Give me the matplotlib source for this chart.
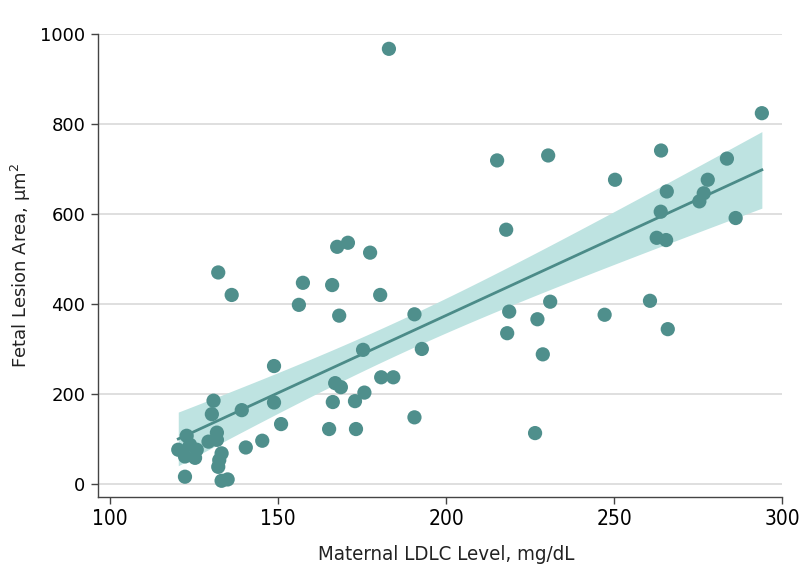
import numpy as np
import matplotlib
matplotlib.use("Agg")
import matplotlib.pyplot as plt
import matplotlib.transforms as mtransforms
from matplotlib import font_manager

ldlc = [183.0, 294.0, 215.2, 230.4, 264.0, 250.3, 283.6, 277.9, 276.7, 275.4,
        265.7, 263.9, 286.2, 262.7, 265.5, 260.7, 247.2, 266.0, 217.9, 218.8,
        218.2, 231.0, 227.2, 228.8, 226.5, 190.6, 192.8, 190.6,
        170.8, 167.6, 177.4, 157.4, 166.1, 156.2, 180.4, 136.2, 132.2, 168.2,
        175.3, 148.8, 167.0, 168.7, 180.7, 184.3, 175.7, 166.3, 172.9, 148.8,
        139.2, 150.9, 165.2, 173.2,
        130.8, 130.3, 145.3, 140.4, 122.8, 131.8, 129.3, 131.8, 120.3, 123.8,
        125.8, 122.3, 125.3, 133.2, 132.5, 132.2, 122.3, 133.2, 135.0]
lesion = [967, 824, 719, 730, 741, 676, 723, 676, 646, 628,
          650, 605, 591, 547, 542, 407, 376, 344, 565, 383,
          335, 405, 366, 288, 113, 377, 300, 148,
          536, 527, 514, 447, 442, 398, 420, 420, 470, 374,
          298, 262, 224, 215, 237, 237, 203, 182, 184, 181,
          164, 133, 122, 122,
          185, 155, 96, 81, 107, 114, 94, 98, 76, 87,
          76, 61, 58, 68, 53, 38, 16, 7, 10]

# fitted regression line (value at x=120 and x=294)
fit_x = [120, 294]
fit_y = [99, 698]

x_ticks = [100, 150, 200, 250, 300]
y_ticks = [0, 200, 400, 600, 800, 1000]
x_label = "Maternal LDLC Level, mg/dL"
y_label = "Fetal Lesion Area, μm$^2$"

has_cond = any(f.name == "DejaVu Sans" and str(f.stretch) in ("condensed", "semi-condensed")
               for f in font_manager.fontManager.ttflist)
if has_cond:
    xfont = dict(family="DejaVu Sans", stretch="condensed")
    xtick_size, xlab_size = 15, 14.7
else:
    xfont = dict(family="DejaVu Sans")
    xtick_size, xlab_size = 13.5, 13.1

point_color = "#4f8f8c"
line_color = "#4b8b88"
band_color = "#bee3e1"

x = np.array(ldlc, dtype=float)
y = np.array(lesion, dtype=float)
n = len(x)
b1 = (fit_y[1] - fit_y[0]) / (fit_x[1] - fit_x[0])
b0 = fit_y[0] - b1 * fit_x[0]
xs = np.linspace(x.min(), x.max(), 100)
ys = b0 + b1 * xs
resid = y - (b0 + b1 * x)
s = np.sqrt(np.sum(resid ** 2) / (n - 2))
sxx = np.sum((x - x.mean()) ** 2)
se = s * np.sqrt(1.0 / n + (xs - x.mean()) ** 2 / sxx)
tval = 1.995
lo, hi = ys - tval * se, ys + tval * se

fig = plt.figure(figsize=(8.01, 5.88), dpi=100)
ax = fig.add_axes([0.1223, 0.1548, 0.854, 0.7874])

for yt in y_ticks:
    ax.axhline(yt, color="#dcdcdc", lw=1.3, zorder=0)
ax.fill_between(xs, lo, hi, color=band_color, lw=0, zorder=1)
ax.plot(xs, ys, color=line_color, lw=2.0, zorder=2)
ax.scatter(x, y, s=105, color=point_color, edgecolors="none", zorder=3)

ax.set_xlim(96.4, 300)
ax.set_ylim(-29, 1000)
ax.set_xticks(x_ticks)
ax.set_yticks(y_ticks)
for sp in ["top", "right"]:
    ax.spines[sp].set_visible(False)
for sp in ["left", "bottom"]:
    ax.spines[sp].set_color("#444444")
    ax.spines[sp].set_linewidth(1.0)
ax.tick_params(axis="both", direction="out", length=5, width=1, color="#444444")
ax.tick_params(axis="y", labelsize=13, pad=4)
ax.tick_params(axis="x", pad=4)
for lab in ax.get_xticklabels():
    lab.set_fontfamily(xfont["family"])
    if "stretch" in xfont:
        lab.set_fontstretch(xfont["stretch"])
    lab.set_fontsize(xtick_size)
ax.set_xlabel(x_label, fontsize=xlab_size, color="#222222", **xfont)
ax.xaxis.set_label_coords(0.5 * (x_ticks[0] + x_ticks[-1]), -0.103,
                          transform=mtransforms.blended_transform_factory(ax.transData, ax.transAxes))
ax.set_ylabel(y_label, fontsize=13, labelpad=5, color="#222222")

fig.savefig("out.png", dpi=100)
